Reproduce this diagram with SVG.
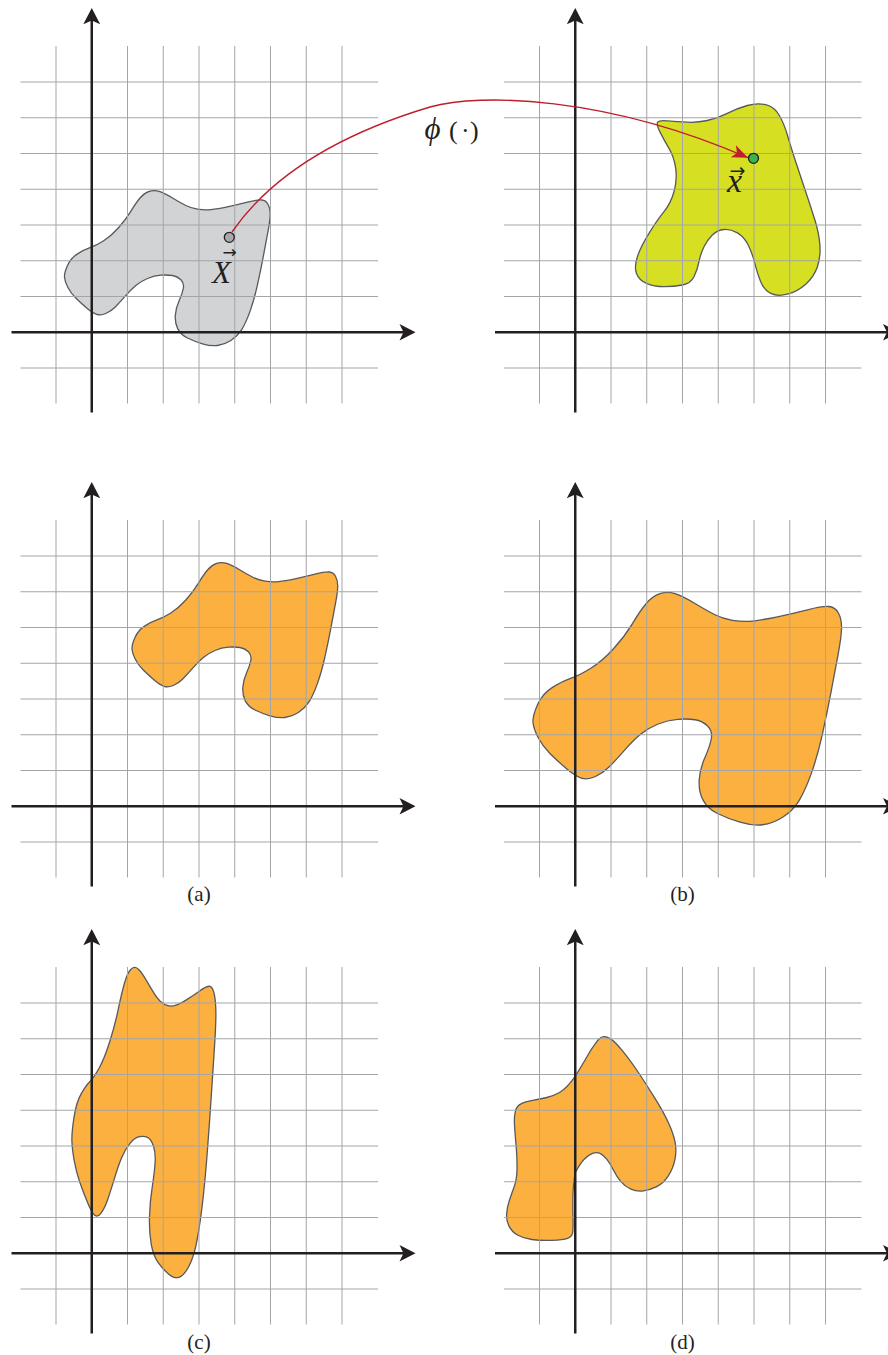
<svg xmlns="http://www.w3.org/2000/svg" xmlns:xlink="http://www.w3.org/1999/xlink" width="888" height="1355" viewBox="0 0 888 1355">
<style>
.lbl{font-family:"Liberation Serif","Times New Roman",serif;font-size:21px;fill:#231f20;text-anchor:middle}
.math{font-family:"Liberation Serif","DejaVu Serif",serif;fill:#231f20}
.vec{font-family:"DejaVu Sans",sans-serif;font-style:normal}
.conn{stroke:#be1e2d;stroke-width:1.4;fill:none}
.pt{stroke:#231f20;stroke-width:1.3}
</style>
<defs>
<g id="gridlines" stroke="#a3a5a8" stroke-width="1">
<line x1="56" y1="46" x2="56" y2="403.5"/>
<line x1="127.5" y1="46" x2="127.5" y2="403.5"/>
<line x1="163.25" y1="46" x2="163.25" y2="403.5"/>
<line x1="199" y1="46" x2="199" y2="403.5"/>
<line x1="234.75" y1="46" x2="234.75" y2="403.5"/>
<line x1="270.5" y1="46" x2="270.5" y2="403.5"/>
<line x1="306.25" y1="46" x2="306.25" y2="403.5"/>
<line x1="342" y1="46" x2="342" y2="403.5"/>
<line x1="20.5" y1="82" x2="378" y2="82"/>
<line x1="20.5" y1="117.75" x2="378" y2="117.75"/>
<line x1="20.5" y1="153.5" x2="378" y2="153.5"/>
<line x1="20.5" y1="189.25" x2="378" y2="189.25"/>
<line x1="20.5" y1="225" x2="378" y2="225"/>
<line x1="20.5" y1="260.75" x2="378" y2="260.75"/>
<line x1="20.5" y1="296.5" x2="378" y2="296.5"/>
<line x1="20.5" y1="368" x2="378" y2="368"/>
</g>
<g id="axes">
<line x1="91.75" y1="412.5" x2="91.75" y2="20" stroke="#231f20" stroke-width="2.5"/>
<line x1="11.5" y1="332.25" x2="404" y2="332.25" stroke="#231f20" stroke-width="2.5"/>
<path d="M91.75,8 L100.2,24.2 L91.75,20.5 L83.3,24.2 Z" fill="#231f20"/>
<path d="M415.5,332.25 L399.5,340.6 L403.5,332.25 L399.5,323.9 Z" fill="#231f20"/>
</g>
<path id="blobA" vector-effect="non-scaling-stroke" d="M132,649.2 Q131.7,645 135,637.5 Q138.3,630 145,625.9 Q151.7,621.7 157.5,619.7 Q163.3,617.7 170.8,613 Q178.3,608.3 185.8,600 Q193.3,591.7 198.3,583.4 Q203.3,575 207.5,570 Q211.7,565 216.7,563.4 Q221.7,561.7 226.7,563.4 Q231.7,565 240,570 Q248.3,575 253.3,577.5 Q258.3,580 265,581.2 Q271.7,582.3 278.4,581.7 Q285,581 295,578.9 Q305,576.7 315,574.2 Q325,571.7 329.2,572 Q333.3,572.3 335.5,576.2 Q337.7,580 337.7,585.9 Q337.7,591.7 335.5,603.4 Q333.3,615 330.8,628.4 Q328.3,641.7 325,656.7 Q321.7,671.7 317.5,683.4 Q313.3,695 309.2,701.7 Q305,708.3 298.4,712.5 Q291.7,716.7 285,717.5 Q278.3,718.3 270,715.8 Q261.7,713.3 255,710 Q248.3,706.7 245.3,700.9 Q242.3,695 242.8,687.5 Q243.3,680 246.7,672.5 Q250,665 250.9,660 Q251.7,655 248.4,651.7 Q245,648.3 240,647.5 Q235,646.7 228.4,647.2 Q221.7,647.7 215,650.5 Q208.3,653.3 203.3,657.5 Q198.3,661.7 192.5,668.4 Q186.7,675 182.5,679.2 Q178.3,683.3 173.3,685.5 Q168.3,687.7 164.2,686.4 Q160,685 154.2,680 Q148.3,675 143.3,670 Q138.3,665 135.3,659.2 Q132.3,653.3 132,649.2 Z"/>
<marker id="redhead" markerUnits="userSpaceOnUse" markerWidth="20" markerHeight="16" viewBox="-17 -8 18 16" refX="0" refY="0" orient="auto">
<path d="M0,0 L-16,-6.5 L-12,0 L-16,6.5 Z" fill="#be1e2d"/>
</marker>
</defs>
<rect width="888" height="1355" fill="#ffffff"/>

<g id="panel-top-left">
<use href="#blobA" xlink:href="#blobA" transform="translate(-67.5,-372)" fill="#d1d3d4" stroke="#58595b" stroke-width="1.3"/>
<use href="#gridlines" xlink:href="#gridlines"/>
<use href="#axes" xlink:href="#axes"/>
</g>

<g id="panel-top-right">
<path d="M657.2,123.4 Q657,120 667.2,120.9 Q677.3,121.7 687.3,122.2 Q697.3,122.7 707.3,120.5 Q717.3,118.3 727.3,113.3 Q737.3,108.3 747.3,105.5 Q757.3,102.7 765.7,104.7 Q774,106.7 779,115 Q784,123.3 787.4,135 Q790.7,146.7 795.7,161.7 Q800.7,176.7 805.7,191.7 Q810.7,206.7 814.9,220 Q819,233.3 819.9,245 Q820.7,256.7 817.4,266.7 Q814,276.7 805.7,284.2 Q797.3,291.7 787.3,294.2 Q777.3,296.7 770.7,293.4 Q764,290 760.7,281.7 Q757.3,273.3 754.8,263.3 Q752.3,253.3 748.2,245 Q744,236.7 737.4,232.9 Q730.7,229 724,229.5 Q717.3,230 712.3,235 Q707.3,240 704,246.7 Q700.7,253.3 699,261.7 Q697.3,270 694,276.7 Q690.7,283.3 682.4,285 Q674,286.7 664,286.7 Q654,286.7 646.5,283.4 Q639,280 636.5,273.4 Q634,266.7 637.4,256.7 Q640.7,246.7 649,233.4 Q657.3,220 664,211.7 Q670.7,203.3 674,191.7 Q677.3,180 675.7,168.4 Q674,156.7 669,148.4 Q664,140 660.7,133.4 Q657.3,126.7 657.2,123.4 Z" fill="#d7df23" stroke="#58595b" stroke-width="1.3"/>
<use href="#gridlines" xlink:href="#gridlines" transform="translate(483.5,0)"/>
<use href="#axes" xlink:href="#axes" transform="translate(483.5,0)"/>
</g>

<g id="panel-a">
<use href="#blobA" xlink:href="#blobA" fill="#fbb040" stroke="#58595b" stroke-width="1.3"/>
<use href="#gridlines" xlink:href="#gridlines" transform="translate(0,474)"/>
<use href="#axes" xlink:href="#axes" transform="translate(0,474)"/>
<text class="lbl" x="199" y="901">(a)</text>
</g>

<g id="panel-b">
<use href="#blobA" xlink:href="#blobA" transform="matrix(1.5,0,0,1.5,335,-251.5)" fill="#fbb040" stroke="#58595b" stroke-width="1.3"/>
<use href="#gridlines" xlink:href="#gridlines" transform="translate(483.5,474)"/>
<use href="#axes" xlink:href="#axes" transform="translate(483.5,474)"/>
<text class="lbl" x="682.5" y="901">(b)</text>
</g>

<g id="panel-c">
<use href="#blobA" xlink:href="#blobA" transform="matrix(0.7,0,0,2,-20.5,-157.7)" fill="#fbb040" stroke="#58595b" stroke-width="1.3"/>
<use href="#gridlines" xlink:href="#gridlines" transform="translate(0,921)"/>
<use href="#axes" xlink:href="#axes" transform="translate(0,921)"/>
<text class="lbl" x="199" y="1349">(c)</text>
</g>

<g id="panel-d">
<path d="M575,1076.7 Q583.3,1063.3 587.5,1055.8 Q591.7,1048.3 595.9,1042.8 Q600,1037.3 603,1036.7 Q606,1036 610.5,1038.9 Q615,1041.7 622.5,1050.9 Q630,1060 638.4,1072.5 Q646.7,1085 655,1098.4 Q663.3,1111.7 668.3,1122.5 Q673.3,1133.3 675,1141.7 Q676.7,1150 675,1159.2 Q673.3,1168.3 668.3,1175.8 Q663.3,1183.3 656.7,1186.7 Q650,1190 643.4,1190.9 Q636.7,1191.7 630.9,1189.2 Q625,1186.7 620.9,1181.7 Q616.7,1176.7 613.4,1170 Q610,1163.3 606.7,1159.2 Q603.3,1155 600,1153.4 Q596.7,1151.7 592.5,1153.4 Q588.3,1155 584.2,1159.2 Q580,1163.3 575,1173.3 Q573.3,1183.3 573,1193.3 Q572.7,1203.3 573,1216.7 Q573.3,1230 572.5,1233.4 Q571.7,1236.7 567.5,1238.4 Q563.3,1240 551.7,1240.4 Q540,1240.7 531.7,1239.5 Q523.3,1238.3 517.5,1235 Q511.7,1231.7 508.9,1225.9 Q506,1220 506.7,1213.4 Q507.3,1206.7 509.5,1200 Q511.7,1193.3 514.2,1186.7 Q516.7,1180 517,1170 Q517.3,1160 516.2,1146.7 Q515,1133.3 514.5,1125 Q514,1116.7 515.4,1111.4 Q516.7,1106 520.9,1103.9 Q525,1101.7 532.5,1100.4 Q540,1099 546.7,1097.5 Q553.3,1096 560,1092.2 Q566.7,1088.3 575,1076.7 Z" fill="#fbb040" stroke="#58595b" stroke-width="1.3"/>
<use href="#gridlines" xlink:href="#gridlines" transform="translate(483.5,921)"/>
<use href="#axes" xlink:href="#axes" transform="translate(483.5,921)"/>
<text class="lbl" x="682.5" y="1349">(d)</text>
</g>

<g id="connectors">
<path class="conn" d="M232,232 C268,180 330,137 430,107 C480,93 605,95.7 748,157.7" marker-end="url(#redhead)"/>
<text class="math" y="139"><tspan x="424.5" font-size="31" font-style="italic">ϕ</tspan><tspan x="449" font-size="26">(</tspan><tspan x="461" font-size="26">·</tspan><tspan x="470" font-size="26">)</tspan></text>
</g>

<g id="point-X">
<circle class="pt" cx="229.3" cy="237.3" r="5" fill="#a7a9ac"/>
<text class="math"><tspan class="vec" x="222.5" y="258" font-size="17">→</tspan><tspan x="212" y="283" font-size="31" font-style="italic">X</tspan></text>
</g>

<g id="point-x">
<circle class="pt" cx="753.5" cy="158.3" r="5" fill="#39b54a"/>
<text class="math"><tspan class="vec" x="729.5" y="177" font-size="19">→</tspan><tspan x="727" y="192" font-size="34" font-style="italic">x</tspan></text>
</g>
</svg>
